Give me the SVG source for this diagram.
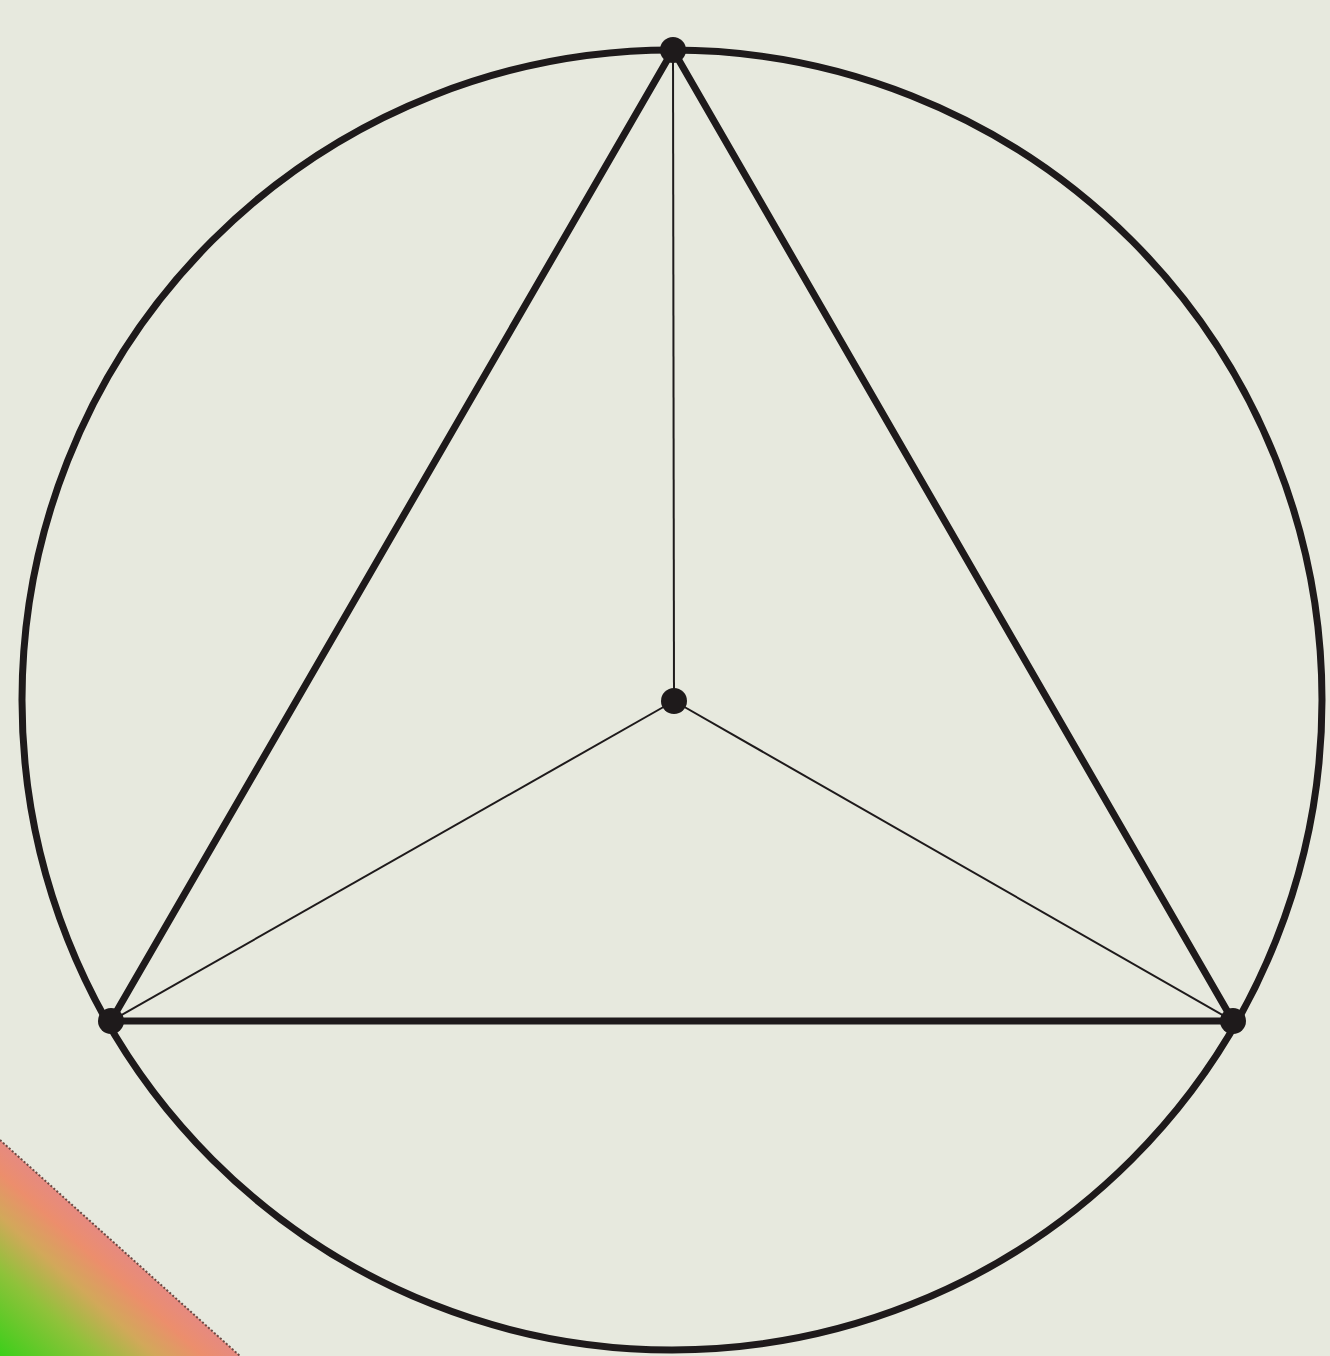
<svg xmlns="http://www.w3.org/2000/svg" width="1330" height="1356" viewBox="0 0 1330 1356">
  <defs>
    <style>
      .thick { stroke: #1e1a1b; stroke-width: 7; fill: none; stroke-linecap: round; }
      .thin { stroke: #1e1a1b; stroke-width: 2; fill: none; }
      .dot { fill: #1e1a1b; }
    </style>
    <linearGradient id="corner" x1="0" y1="1356" x2="107" y2="1237" gradientUnits="userSpaceOnUse">
      <stop offset="0" stop-color="#3ccf1a"/>
      <stop offset="0.4" stop-color="#8fc23a"/>
      <stop offset="0.65" stop-color="#d2a85a"/>
      <stop offset="0.85" stop-color="#ec8e6c"/>
      <stop offset="1" stop-color="#e68a80"/>
    </linearGradient>
  </defs>
  <rect width="1330" height="1356" fill="#e7e9de"/>
  <g id="corner-shape">
    <polygon points="0,1140 240,1356 0,1356" fill="url(#corner)"/>
    <line x1="0" y1="1140" x2="240" y2="1356" stroke="#6a4a44" stroke-width="2" stroke-dasharray="2 2"/>
  </g>
  <g id="connectors">
    <circle id="circumcircle" cx="672" cy="700" r="650" class="thick"/>
    <line x1="673" y1="50" x2="111" y2="1021" class="thick"/>
    <line x1="673" y1="50" x2="1233" y2="1021" class="thick"/>
    <line x1="111" y1="1021" x2="1233" y2="1021" class="thick"/>
    <line x1="674" y1="701" x2="673" y2="50" class="thin"/>
    <line x1="674" y1="701" x2="111" y2="1021" class="thin"/>
    <line x1="674" y1="701" x2="1233" y2="1021" class="thin"/>
  </g>
  <g id="vertex-top"><circle cx="673" cy="50" r="13" class="dot"/></g>
  <g id="vertex-left"><circle cx="111" cy="1021" r="13" class="dot"/></g>
  <g id="vertex-right"><circle cx="1233" cy="1021" r="13" class="dot"/></g>
  <g id="center"><circle cx="674" cy="701" r="13" class="dot"/></g>
</svg>
